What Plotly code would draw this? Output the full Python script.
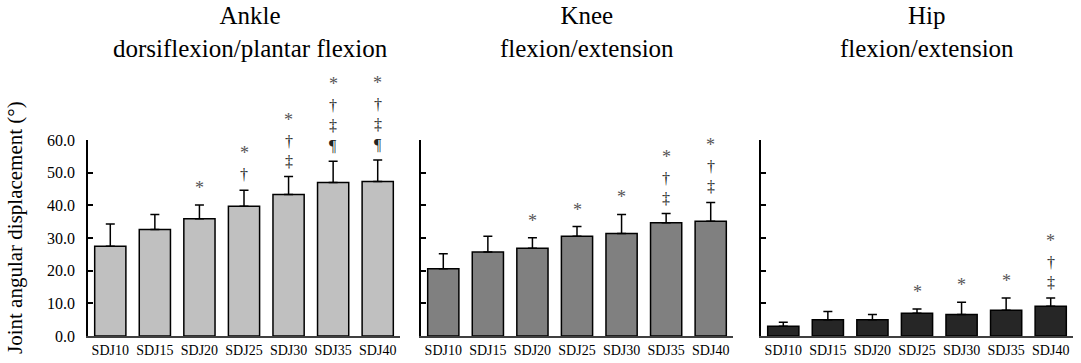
import plotly.graph_objects as go

# Test conditions (drop jump heights)
conditions = ["SDJ10", "SDJ15", "SDJ20", "SDJ25", "SDJ30", "SDJ35", "SDJ40"]

# Joint angular displacement (deg): mean and SD per joint
ankle_mean = [27.5, 32.6, 35.9, 39.7, 43.3, 47.0, 47.3]
ankle_sd = [6.8, 4.6, 4.2, 4.9, 5.5, 6.5, 6.6]
knee_mean = [20.6, 25.7, 26.9, 30.5, 31.4, 34.7, 35.1]
knee_sd = [4.6, 4.8, 3.2, 3.0, 5.8, 2.8, 5.8]
hip_mean = [3.0, 5.0, 5.0, 7.0, 6.6, 7.9, 9.1]
hip_sd = [1.2, 2.5, 1.6, 1.3, 3.7, 3.7, 2.5]

# Significance markers (top to bottom) above each bar
ankle_sig = ["", "", "*", "*†", "*†‡", "*†‡¶", "*†‡¶"]
knee_sig = ["", "", "*", "*", "*", "*†‡", "*†‡"]
hip_sig = ["", "", "", "*", "*", "*", "*†‡"]

panel_titles = ["Ankle<br>dorsiflexion/plantar flexion",
                "Knee<br>flexion/extension",
                "Hip<br>flexion/extension"]
y_ticks = [0, 10, 20, 30, 40, 50, 60]
y_tick_text = ["0.0", "10.0", "20.0", "30.0", "40.0", "50.0", "60.0"]

W, H = 1081, 363
SERIF = "Liberation Serif"

panels = [
    (ankle_mean, ankle_sd, ankle_sig, "#c0c0c0", (88, 400), 250),
    (knee_mean, knee_sd, knee_sig, "#808080", (421, 733), 587),
    (hip_mean, hip_sd, hip_sig, "#262626", (761, 1073), 927),
]

y_dom = [(H - 336) / H, (H - 140) / H]

fig = go.Figure()
annotations = []
for i, (mean, sd, sig, color, (x0, x1), title_x) in enumerate(panels):
    sfx = "" if i == 0 else str(i + 1)
    fig.add_trace(go.Bar(
        x=conditions, y=mean,
        xaxis="x" + sfx, yaxis="y" + sfx,
        marker=dict(color=color, line=dict(color="#000000", width=1.5)),
        error_y=dict(type="data", array=sd, arrayminus=[0] * len(sd),
                     symmetric=False, color="#000000", thickness=1.5, width=4.5),
        showlegend=False,
    ))
    fig.update_layout(**{
        "xaxis" + sfx: dict(
            domain=[x0 / W, x1 / W], anchor="y" + sfx, automargin=False,
            showline=True, linecolor="#404040", linewidth=2,
            ticks="", showgrid=False, zeroline=False,
            tickfont=dict(family=SERIF, size=14, color="#000000"),
        ),
        "yaxis" + sfx: dict(
            domain=y_dom, anchor="x" + sfx, range=[0, 60], automargin=False,
            showline=True, linecolor="#000000", linewidth=1.5,
            ticks="inside", ticklen=5, tickwidth=1.5, tickcolor="#000000",
            tickvals=y_ticks, ticktext=y_tick_text, ticklabelstandoff=8,
            showticklabels=(i == 0), showgrid=False, zeroline=False,
            tickfont=dict(family=SERIF, size=16, color="#000000"),
        ),
    })
    # stacked significance symbols above each error bar
    for c, m, s, marks in zip(conditions, mean, sd, sig):
        n = len(marks)
        for k, ch in enumerate(marks):
            level = n - 1 - k
            annotations.append(dict(
                x=c, y=m + s, xref="x" + sfx, yref="y" + sfx,
                text=ch, showarrow=False, yanchor="bottom",
                yshift=5 + 20 * level,
                font=dict(family=SERIF, size=18 if ch == "*" else 16,
                          color="#555555" if ch == "*" else "#222222"),
            ))
    annotations.append(dict(
        x=title_x / W, y=1.0, xref="paper", yref="paper",
        text=panel_titles[i], showarrow=False,
        xanchor="center", yanchor="top", yshift=0,
        font=dict(family=SERIF, size=25, color="#000000"),
    ))

annotations.append(dict(
    x=15 / W, y=(H - 228) / H, xref="paper", yref="paper",
    text="Joint angular displacement (°)", textangle=-90, showarrow=False,
    xanchor="center", yanchor="middle",
    font=dict(family=SERIF, size=21, color="#000000"),
))

fig.update_layout(
    width=W, height=H,
    margin=dict(l=0, r=0, t=0, b=0, autoexpand=False),
    paper_bgcolor="#ffffff", plot_bgcolor="#ffffff",
    bargap=0.3,
    annotations=annotations,
)

fig.write_html("out.html")
